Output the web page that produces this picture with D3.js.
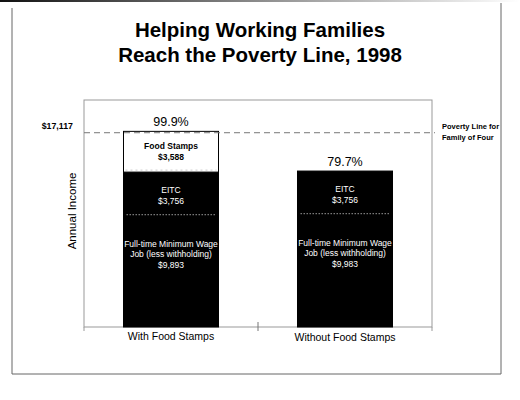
<!DOCTYPE html>
<html>
<head>
<meta charset="utf-8">
<script src="https://cdn.jsdelivr.net/npm/d3@7"></script>
<style>
  body { margin: 0; background: #fff; }
  svg { display: block; font-family: "Liberation Sans", Arial, sans-serif; }
</style>
</head>
<body>
<div id="chart"></div>
<script>
const categories = ['With Food Stamps', 'Without Food Stamps'];
const wageValues = [9893, 9983];
const eitcValues = [3756, 3756];
const foodStampValues = [3588, 0];
const percentLabels = ['99.9%', '79.7%'];
const povertyLine = 17117;
const titleLines = ['Helping Working Families', 'Reach the Poverty Line, 1998'];

const W = 520, H = 400;
const plot = { left: 84, right: 432, top: 100, bottom: 327 };

const svg = d3.select('#chart').append('svg')
  .attr('width', W).attr('height', H);

// outer page frame (top edge fades like the scan)
const defs = svg.append('defs');
const grad = defs.append('linearGradient').attr('id', 'topfade');
grad.append('stop').attr('offset', '0%').attr('stop-color', '#111');
grad.append('stop').attr('offset', '55%').attr('stop-color', '#999');
grad.append('stop').attr('offset', '100%').attr('stop-color', '#fff');
svg.append('rect').attr('x', 0).attr('y', 0).attr('width', W).attr('height', 2).attr('fill', 'url(#topfade)');
svg.append('path')
  .attr('d', 'M12,8 V374 H501 V3')
  .attr('fill', 'none').attr('stroke', '#666').attr('stroke-width', 1);

// title
svg.append('text')
  .attr('text-anchor', 'middle').attr('font-weight', 'bold').attr('font-size', 20.5)
  .selectAll('tspan').data(titleLines).join('tspan')
  .attr('x', 260).attr('y', (d, i) => 37 + i * 25)
  .text((d) => d);

const x = d3.scaleBand().domain(categories)
  .range([plot.left, plot.right]).paddingInner(0.454).paddingOuter(0.227);
const y = d3.scaleLinear().domain([0, 20000]).range([plot.bottom, plot.top]);

// plot frame
svg.append('rect')
  .attr('x', plot.left).attr('y', plot.top)
  .attr('width', plot.right - plot.left).attr('height', plot.bottom - plot.top)
  .attr('fill', 'none').attr('stroke', '#999');
svg.append('line').attr('x1', plot.left).attr('x2', plot.left)
  .attr('y1', plot.bottom).attr('y2', plot.bottom + 4).attr('stroke', '#999');
svg.append('line').attr('x1', plot.right).attr('x2', plot.right)
  .attr('y1', plot.bottom).attr('y2', plot.bottom + 4).attr('stroke', '#999');
const midX = (x(categories[0]) + x.bandwidth() + x(categories[1])) / 2;
svg.append('line').attr('x1', midX).attr('x2', midX)
  .attr('y1', plot.bottom - 5).attr('y2', plot.bottom + 4).attr('stroke', '#777');

// stacked bars
const rows = categories.map((c, i) => ({
  cat: c, wage: wageValues[i], eitc: eitcValues[i], food: foodStampValues[i], pct: percentLabels[i]
}));
const stack = d3.stack().keys(['wage', 'eitc', 'food'])(rows);
const fills = { wage: '#000', eitc: '#000', food: '#fff' };

stack.forEach((layer) => {
  svg.append('g').selectAll('rect').data(layer.filter((d) => d[1] > d[0])).join('rect')
    .attr('x', (d) => x(d.data.cat))
    .attr('y', (d) => y(d[1]))
    .attr('width', x.bandwidth())
    .attr('height', (d) => y(d[0]) - y(d[1]))
    .attr('fill', fills[layer.key])
    .attr('stroke', '#000').attr('stroke-width', 1);
});

// dotted separator between wage and EITC
svg.append('g').selectAll('line').data(stack[1]).join('line')
  .attr('x1', (d) => x(d.data.cat) + 3).attr('x2', (d) => x(d.data.cat) + x.bandwidth() - 3)
  .attr('y1', (d) => y(d[0])).attr('y2', (d) => y(d[0]))
  .attr('stroke', '#999').attr('stroke-dasharray', '1.5,1.5').attr('stroke-width', 1);

// faint separator under food stamps
svg.append('g').selectAll('line').data(stack[2].filter((d) => d[1] > d[0])).join('line')
  .attr('x1', (d) => x(d.data.cat) + 2).attr('x2', (d) => x(d.data.cat) + x.bandwidth() - 2)
  .attr('y1', (d) => y(d[0]) - 2).attr('y2', (d) => y(d[0]) - 2)
  .attr('stroke', '#ccc').attr('stroke-dasharray', '2,3');

const fmt = d3.format('$,');
const cx = (d) => x(d.data.cat) + x.bandwidth() / 2;

// segment labels
function segLabel(layer, lines, color, weight, offset) {
  const g = svg.append('g').selectAll('text').data(layer.filter((d) => d[1] > d[0])).join('text')
    .attr('text-anchor', 'middle').attr('font-size', 8.5)
    .attr('fill', color).attr('font-weight', weight);
  g.selectAll('tspan').data((d) => lines(d).map((t) => ({ t, d }))).join('tspan')
    .attr('x', (e) => cx(e.d))
    .attr('y', (e, i) => y(e.d[1]) + offset + i * 10.5)
    .text((e) => e.t);
}
segLabel(stack[2], (d) => ['Food Stamps', fmt(d.data.food)], '#000', 'bold', 18);
segLabel(stack[1], (d) => ['EITC', fmt(d.data.eitc)], '#fff', 'normal', 21);
segLabel(stack[0], (d) => ['Full-time Minimum Wage', 'Job (less withholding)', fmt(d.data.wage)], '#fff', 'normal', 32);

// percent labels
svg.append('g').selectAll('text').data(stack[2]).join('text')
  .attr('x', cx).attr('y', (d) => y(d[1]) - 5)
  .attr('text-anchor', 'middle').attr('font-size', 12.5)
  .text((d) => d.data.pct);

// poverty line
svg.append('line')
  .attr('x1', plot.left).attr('x2', plot.right + 3)
  .attr('y1', y(povertyLine)).attr('y2', y(povertyLine))
  .attr('stroke', '#777').attr('stroke-dasharray', '6,4');
svg.append('text')
  .attr('x', 73).attr('y', y(povertyLine) - 4)
  .attr('text-anchor', 'end').attr('font-size', 8.8).attr('font-weight', 'bold')
  .text(fmt(povertyLine));
svg.append('text').attr('font-size', 7.5).attr('font-weight', 'bold')
  .selectAll('tspan').data(['Poverty Line for', 'Family of Four']).join('tspan')
  .attr('x', 442).attr('y', (d, i) => y(povertyLine) - 4 + i * 11)
  .text((d) => d);

// axis title
svg.append('text')
  .attr('transform', `translate(76,${211}) rotate(-90)`)
  .attr('text-anchor', 'middle').attr('font-size', 11.5)
  .text('Annual Income');

// category labels
svg.append('g').selectAll('text').data(categories).join('text')
  .attr('x', (d) => x(d) + x.bandwidth() / 2)
  .attr('y', (d, i) => plot.bottom + 13 + i)
  .attr('text-anchor', 'middle').attr('font-size', 10.5)
  .text((d) => d);
</script>
</body>
</html>
